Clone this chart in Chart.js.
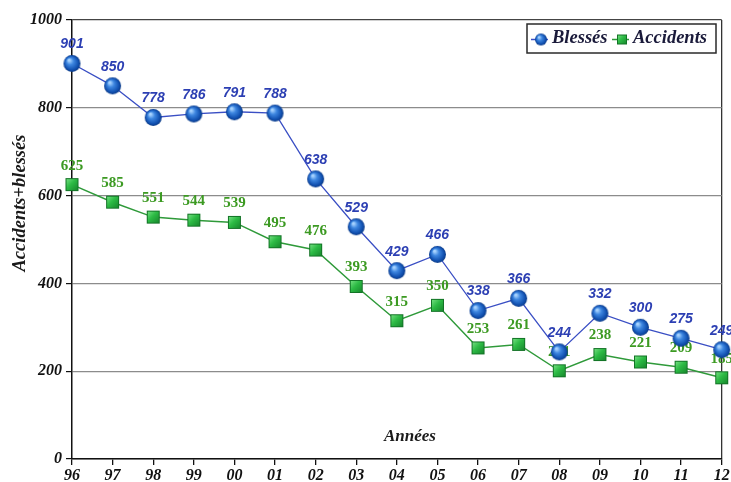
<!DOCTYPE html>
<html>
<head>
<meta charset="utf-8">
<script src="https://cdn.jsdelivr.net/npm/chart.js@4/dist/chart.umd.min.js"></script>
<style>
  html, body { margin: 0; padding: 0; background: #fff; }
  #wrap { width: 731px; height: 482px; }
</style>
</head>
<body>
<div id="wrap"><canvas id="c" width="731" height="482"></canvas></div>
<script>
// Years (two-digit) on the horizontal axis
const years = ['96', '97', '98', '99', '00', '01', '02', '03', '04', '05', '06', '07', '08', '09', '10', '11', '12'];
// Injured people per year
const blesses = [901, 850, 778, 786, 791, 788, 638, 529, 429, 466, 338, 366, 244, 332, 300, 275, 249];
// Accidents per year
const accidents = [625, 585, 551, 544, 539, 495, 476, 393, 315, 350, 253, 261, 201, 238, 221, 209, 185];
// Vertical axis range
const yMin = 0;
const yMax = 1000;
const yStep = 200;

const SERIF = '"Liberation Serif", "Times New Roman", serif';
const SANS = '"Liberation Sans", Arial, sans-serif';

// Shaded sphere marker
function makeSphere(r) {
  const s = Math.ceil(r * 2 + 2);
  const cv = document.createElement('canvas');
  cv.width = s; cv.height = s;
  const g = cv.getContext('2d');
  const c = s / 2;
  const grad = g.createRadialGradient(c - r * 0.35, c - r * 0.4, r * 0.1, c, c, r);
  grad.addColorStop(0, '#a9d4ff');
  grad.addColorStop(0.35, '#3d86e0');
  grad.addColorStop(0.8, '#1150b0');
  grad.addColorStop(1, '#0b3a86');
  g.beginPath();
  g.arc(c, c, r, 0, Math.PI * 2);
  g.fillStyle = grad;
  g.fill();
  return cv;
}

// Shaded square marker
function makeSquare(size) {
  const s = Math.ceil(size + 2);
  const cv = document.createElement('canvas');
  cv.width = s; cv.height = s;
  const g = cv.getContext('2d');
  const o = (s - size) / 2;
  const grad = g.createLinearGradient(o, o, o + size, o + size);
  grad.addColorStop(0, '#7fe58a');
  grad.addColorStop(0.45, '#2dbb45');
  grad.addColorStop(1, '#15822a');
  g.fillStyle = grad;
  g.fillRect(o, o, size, size);
  g.strokeStyle = '#137326';
  g.lineWidth = 1;
  g.strokeRect(o + 0.5, o + 0.5, size - 1, size - 1);
  return cv;
}

const sphere = makeSphere(8.5);
const square = makeSquare(13);
const sphereSmall = makeSphere(6);
const squareSmall = makeSquare(10);

// Value labels above each point (drawn beneath the markers)
const valueLabels = {
  id: 'valueLabels',
  beforeDatasetsDraw(chart) {
    const ctx = chart.ctx;
    ctx.save();
    ctx.textAlign = 'center';
    ctx.textBaseline = 'middle';
    chart.data.datasets.forEach((ds, i) => {
      const meta = chart.getDatasetMeta(i);
      ctx.font = ds.labelFont;
      ctx.fillStyle = ds.labelColor;
      meta.data.forEach((pt, j) => {
        ctx.fillText(String(ds.data[j]), pt.x, pt.y - 19);
      });
    });
    ctx.restore();
  }
};

// Axis captions and legend box
const overlay = {
  id: 'overlay',
  afterDraw(chart) {
    const ctx = chart.ctx;
    ctx.save();
    ctx.fillStyle = '#1a1a1a';
    ctx.textAlign = 'center';
    ctx.textBaseline = 'middle';

    // vertical axis caption
    ctx.save();
    ctx.translate(20, 203);
    ctx.rotate(-Math.PI / 2);
    ctx.font = 'italic bold 18.5px ' + SERIF;
    ctx.fillText('Accidents+blessés', 0, 0);
    ctx.restore();

    // horizontal axis caption, inside the plot
    ctx.font = 'italic bold 17px ' + SERIF;
    ctx.fillText('Années', 410, 437);

    // legend
    const bx = 527, by = 24, bw = 189, bh = 29;
    ctx.fillStyle = '#fff';
    ctx.fillRect(bx, by, bw, bh);
    ctx.strokeStyle = '#2a2a2a';
    ctx.lineWidth = 1.5;
    ctx.strokeRect(bx, by, bw, bh);
    const cy = by + bh / 2;
    const items = [
      { ds: chart.data.datasets[0], img: sphereSmall, x: 531 },
      { ds: chart.data.datasets[1], img: squareSmall, x: 612 }
    ];
    ctx.font = 'italic bold 18.5px ' + SERIF;
    ctx.textAlign = 'left';
    items.forEach(it => {
      ctx.strokeStyle = it.ds.borderColor;
      ctx.lineWidth = 1.5;
      ctx.beginPath();
      ctx.moveTo(it.x, cy + 1);
      ctx.lineTo(it.x + 17, cy + 1);
      ctx.stroke();
      ctx.drawImage(it.img, it.x + 10 - it.img.width / 2, cy + 1 - it.img.height / 2);
      ctx.fillStyle = '#1a1a3a';
      ctx.fillText(it.ds.label, it.x + 21, cy);
    });
    ctx.restore();
  }
};

new Chart(document.getElementById('c'), {
  type: 'line',
  data: {
    labels: years,
    datasets: [
      {
        label: 'Blessés',
        data: blesses,
        borderColor: '#3a4fc4',
        borderWidth: 1.3,
        pointStyle: sphere,
        pointRadius: 8,
        tension: 0,
        labelFont: 'italic bold 14px ' + SANS,
        labelColor: '#2c3fb3'
      },
      {
        label: 'Accidents',
        data: accidents,
        borderColor: '#2f9a3a',
        borderWidth: 1.5,
        pointStyle: square,
        pointRadius: 7,
        tension: 0,
        labelFont: 'bold 15px ' + SERIF,
        labelColor: '#3c9a22'
      }
    ]
  },
  options: {
    responsive: false,
    animation: false,
    events: [],
    layout: { padding: { top: 20, right: 4, left: 0, bottom: 0 } },
    plugins: {
      legend: { display: false },
      tooltip: { enabled: false }
    },
    scales: {
      x: {
        offset: false,
        border: { color: '#111', width: 1.5 },
        grid: {
          drawOnChartArea: true,
          color: ctx => (ctx.index === years.length - 1 ? '#333' : 'rgba(0,0,0,0)'),
          lineWidth: 1.3,
          tickColor: '#111',
          tickLength: 6
        },
        ticks: {
          color: '#111',
          padding: 1,
          maxRotation: 0,
          autoSkip: false,
          font: { family: SERIF, style: 'italic', weight: 'bold', size: 16 }
        },
        afterFit(scale) {
          scale.height = 23;
          scale.paddingRight = 0;
        }
      },
      y: {
        min: yMin,
        max: yMax,
        border: { color: '#111', width: 1.5 },
        grid: {
          color: ctx => (ctx.tick && ctx.tick.value === yMax ? '#444' : '#8c8c8c'),
          lineWidth: 1.2,
          tickColor: '#111',
          tickLength: 6
        },
        ticks: {
          stepSize: yStep,
          color: '#111',
          padding: 4,
          callback: v => String(v),
          font: { family: SERIF, style: 'italic', weight: 'bold', size: 16 }
        },
        afterFit(scale) { scale.width = 72; }
      }
    }
  },
  plugins: [valueLabels, overlay]
});
</script>
</body>
</html>
